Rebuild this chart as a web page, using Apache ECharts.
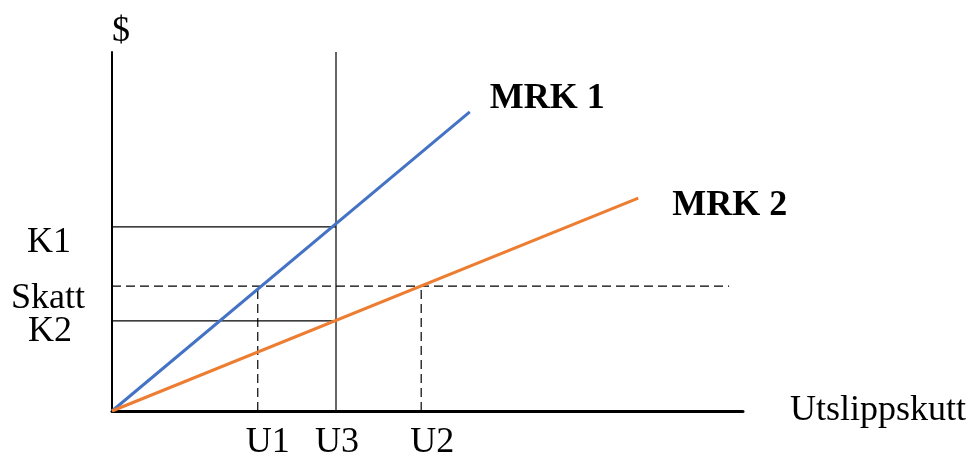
<!DOCTYPE html>
<html>
<head>
<meta charset="utf-8">
<script src="https://cdn.jsdelivr.net/npm/echarts@6/dist/echarts.min.js"></script>
<style>html,body{margin:0;padding:0;background:#fff}#c{width:975px;height:460px}</style>
</head>
<body>
<div id="c"></div>
<script>
// Axis extents (abstract units)
const xMax = 10;
const yMax = 10;
// Marginal cost curves (start, end)
const mrk1X = [0, 5.67];
const mrk1Y = [0, 8.33];
const mrk2X = [0, 8.34];
const mrk2Y = [0, 5.93];
// Levels on y axis
const kLabels = ['K1', 'Skatt', 'K2'];
const kValues = [5.13, 3.48, 2.51];
// Quantities on x axis
const uLabels = ['U1', 'U3', 'U2'];
const uValues = [2.31, 3.55, 4.90];
const skattEnd = 9.78;

const FONT = '"Liberation Serif", "Times New Roman", serif';
const K1 = kValues[0], SK = kValues[1], K2 = kValues[2];
const U1 = uValues[0], U3 = uValues[1], U2 = uValues[2];

const thin = {color: '#000', width: 1.2, type: 'solid'};
const dash = {color: '#000', width: 1.2, type: [9, 5]};

function seg(x0, y0, x1, y1, style) {
  return {
    type: 'line', data: [[x0, y0], [x1, y1]], symbol: 'none', silent: true,
    lineStyle: style, z: 2, animation: false
  };
}

const leftOffsets = [[-63, 16], [-64, 12], [-62, 11]];
const bottomOffsets = [[10, 32], [1, 32], [11, 32]];
const txt = {fontFamily: FONT, fontSize: 36, color: '#000', align: 'center', verticalAlign: 'middle', opacity: 1};

const labelSeries = {
  type: 'scatter', symbolSize: 0, silent: true, clip: false, animation: false, z: 5,
  itemStyle: {opacity: 1, color: 'transparent'},
  data: kLabels.map((t, i) => ({
    value: [0, kValues[i]], name: t,
    label: Object.assign({show: true, position: 'inside', formatter: t, offset: leftOffsets[i]}, txt)
  })).concat(uLabels.map((t, i) => ({
    value: [uValues[i], 0], name: t,
    label: Object.assign({show: true, position: 'inside', formatter: t, offset: bottomOffsets[i]}, txt)
  }))),
  label: txt
};

const chart = echarts.init(document.getElementById('c'), null, {renderer: 'canvas'});
chart.setOption({
  animation: false,
  backgroundColor: '#fff',
  grid: {left: 112, right: 232, top: 52, bottom: 49, containLabel: false, outerBoundsMode: 'none'},
  xAxis: {
    type: 'value', min: 0, max: xMax,
    axisLine: {show: true, lineStyle: {color: '#000', width: 3}},
    axisTick: {show: false}, axisLabel: {show: false}, splitLine: {show: false},
    name: 'Utslippskutt', nameLocation: 'end', nameGap: 47,
    nameTextStyle: {fontFamily: FONT, fontSize: 36, color: '#000', verticalAlign: 'middle', align: 'left'}
  },
  yAxis: {
    type: 'value', min: 0, max: yMax,
    axisLine: {show: true, lineStyle: {color: '#000', width: 2}},
    axisTick: {show: false}, axisLabel: {show: false}, splitLine: {show: false},
    name: '$', nameLocation: 'end', nameGap: 2,
    nameTextStyle: {fontFamily: FONT, fontSize: 36, color: '#000', padding: [0, 0, 0, 18]}
  },
  series: [
    seg(U3, 0, U3, yMax, thin),
    seg(0, K1, U3, K1, thin),
    seg(0, K2, U3, K2, thin),
    seg(0, SK, skattEnd, SK, dash),
    seg(U1, 0, U1, SK, dash),
    seg(U2, 0, U2, SK, dash),
    {
      type: 'line', name: 'MRK 1', symbol: 'none', silent: true, z: 4,
      data: mrk1X.map((x, i) => [x, mrk1Y[i]]),
      lineStyle: {color: '#4472C4', width: 3},
      endLabel: {show: true, formatter: 'MRK 1', fontFamily: FONT, fontSize: 36, fontWeight: 'bold', color: '#000', offset: [12, -13]}
    },
    {
      type: 'line', name: 'MRK 2', symbol: 'none', silent: true, z: 4,
      data: mrk2X.map((x, i) => [x, mrk2Y[i]]),
      lineStyle: {color: '#ED7D31', width: 3},
      endLabel: {show: true, formatter: 'MRK 2', fontFamily: FONT, fontSize: 36, fontWeight: 'bold', color: '#000', offset: [26, 8]}
    },
    labelSeries
  ]
});
</script>
</body>
</html>
